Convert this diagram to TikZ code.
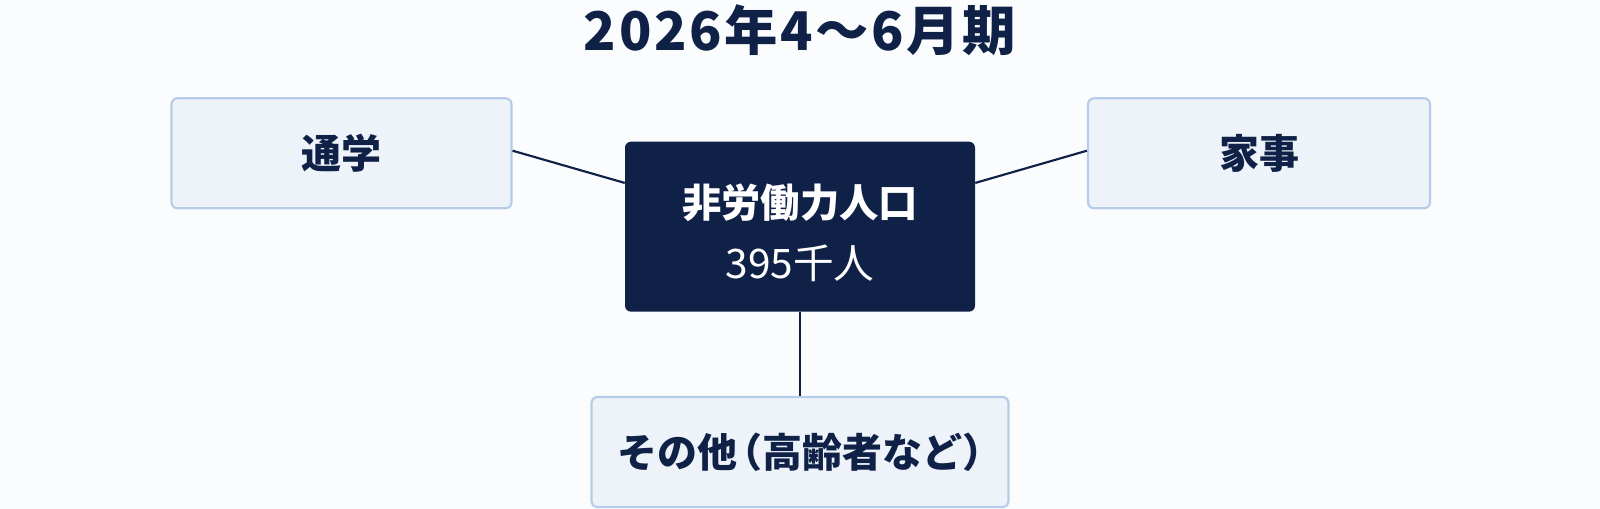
\documentclass[tikz,border=0pt]{standalone}
\usepackage{fontspec}
\setmainfont{Noto Sans CJK JP}
\usetikzlibrary{calc}
\definecolor{navy}{HTML}{0F2147}
\definecolor{boxfill}{HTML}{EEF3FA}
\definecolor{boxline}{HTML}{B6CCE8}
\definecolor{bg}{HTML}{FBFCFD}
\newcommand{\hw}[1]{{\addfontfeatures{RawFeature=+halt}#1}}
\tikzset{
  leafbox/.style={draw=boxline, line width=1.6pt, fill=boxfill, rounded corners=4.5pt,
    font=\fontsize{30}{36}\selectfont\bfseries, text=navy, inner sep=0pt},
  hubbox/.style={fill=navy, rounded corners=4.5pt, inner sep=0pt},
  link/.style={draw=navy, line width=1.6pt},
}
\begin{document}
\begin{tikzpicture}[x=0.75pt,y=-0.75pt]
\useasboundingbox (0,0) rectangle (1600,509);
\fill[bg] (0,0) rectangle (1600,509);
\node[font=\fontsize{40}{46}\selectfont\bfseries\addfontfeatures{LetterSpace=5}, text=navy] (title) at (800,30) {2026年4〜6月期};
\node[leafbox, minimum width=340*0.75pt, minimum height=110*0.75pt] (school) at (341.5,153.3) {通学};
\node[leafbox, minimum width=342*0.75pt, minimum height=110*0.75pt] (house) at (1259,153.3) {家事};
\node[hubbox, minimum width=350*0.75pt, minimum height=170*0.75pt] (hub) at (800,226.7) {};
\node[text=white, font=\fontsize{29.5}{35}\selectfont\bfseries] (hubname) at (800,203) {非労働力人口};
\node[text=white, font=\fontsize{30.5}{36}\selectfont] (hubnum) at (800,263) {395千人};
\node[leafbox, minimum width=417*0.75pt, minimum height=110*0.75pt] (other) at (800,452) {その他\hspace{0.14em}\hw{（}高齢者など\hw{）}};
\draw[link] ($(school.east)+(0,-2.6)$) -- ($(hub.north west)+(0,41.5)$);
\draw[link] ($(house.west)+(0,-2.6)$) -- ($(hub.north east)+(0,41.5)$);
\draw[link] (hub.south) -- (other.north);
\end{tikzpicture}
\end{document}
